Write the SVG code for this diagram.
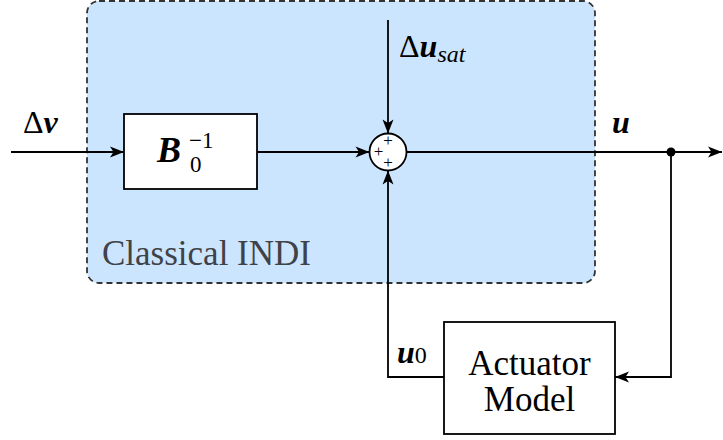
<svg xmlns="http://www.w3.org/2000/svg" width="723" height="440" viewBox="0 0 723 440">
<style>
.ln{fill:none;stroke:#000;stroke-width:1.8}
.blk{fill:#fff;stroke:#000;stroke-width:1.8}
</style>
<defs>
<marker id="ar" markerUnits="userSpaceOnUse" markerWidth="16" markerHeight="14" refX="15" refY="7" orient="auto" viewBox="0 0 16 14">
<path d="M1,1.5 L15,7 L1,12.5 L4.5,7 z" fill="#000"/>
</marker>
</defs>
<g id="indi-region">
<rect x="87" y="1" width="508" height="282" rx="12" fill="#cce5ff" stroke="#333" stroke-width="1.8" stroke-dasharray="6,4"/>
<text x="102" y="265" font-size="35" font-family="Liberation Serif" fill="#3f4247">Classical INDI</text>
</g>
<g id="connectors">
<path class="ln" d="M11,152 H124" marker-end="url(#ar)"/>
<path class="ln" d="M257,152 H369.5" marker-end="url(#ar)"/>
<path class="ln" d="M388,20 V133.5" marker-end="url(#ar)"/>
<path class="ln" d="M406.5,152 H722" marker-end="url(#ar)"/>
<path class="ln" d="M671,152 V377 H615" marker-end="url(#ar)"/>
<path class="ln" d="M444,377 H388 V170.5" marker-end="url(#ar)"/>
<circle cx="671" cy="152" r="4.5" fill="#000"/>
</g>
<g id="binv">
<rect class="blk" x="124" y="114" width="133" height="75"/>
<text x="157" y="162" font-size="36" font-family="Liberation Serif" font-weight="bold" font-style="italic">B</text>
<text x="189" y="148" font-size="23" font-family="Liberation Serif">&#8722;1</text>
<text x="190" y="172" font-size="23" font-family="Liberation Serif">0</text>
</g>
<g id="sum">
<circle class="blk" cx="388" cy="152" r="18.5"/>
<text x="388" y="146" font-size="17" font-family="Liberation Serif" text-anchor="middle">+</text>
<text x="378.5" y="157" font-size="17" font-family="Liberation Serif" text-anchor="middle">+</text>
<text x="388" y="168" font-size="17" font-family="Liberation Serif" text-anchor="middle">+</text>
</g>
<g id="actuator">
<rect class="blk" x="444" y="322" width="171" height="112"/>
<text x="529.5" y="375" font-size="35" font-family="Liberation Serif" text-anchor="middle">Actuator</text>
<text x="529.5" y="411" font-size="35" font-family="Liberation Serif" text-anchor="middle">Model</text>
</g>
<g id="labels">
<text x="23" y="133" font-size="32" font-family="Liberation Serif">&#916;<tspan font-weight="bold" font-style="italic">&#957;</tspan></text>
<text x="399" y="57" font-size="32" font-family="Liberation Serif">&#916;<tspan font-weight="bold" font-style="italic">u</tspan><tspan font-style="italic" font-size="24" dy="5">sat</tspan></text>
<text x="612" y="133" font-size="32" font-family="Liberation Serif" font-weight="bold" font-style="italic">u</text>
<text x="397" y="363" font-size="32" font-family="Liberation Serif"><tspan font-weight="bold" font-style="italic">u</tspan><tspan font-size="24">0</tspan></text>
</g>
</svg>
